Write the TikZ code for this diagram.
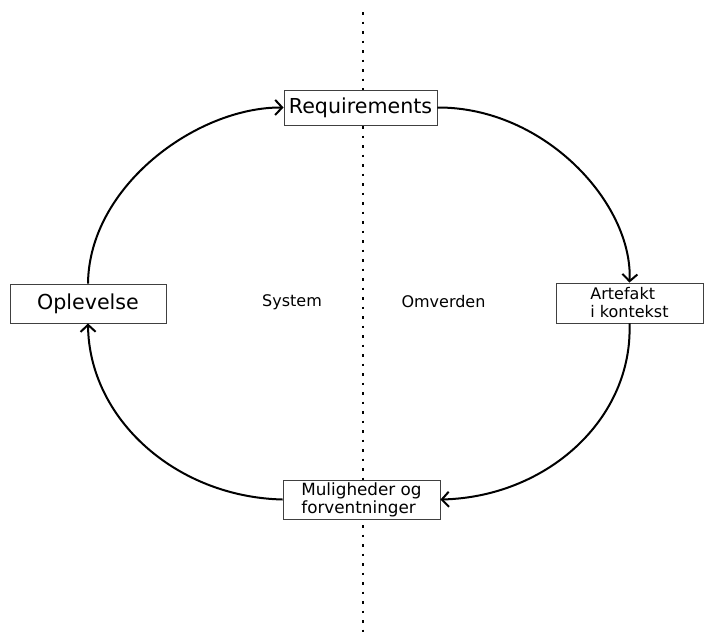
\documentclass[tikz,border=0pt]{standalone}
\usepackage{fontspec}
\setmainfont{DejaVu Sans}
\usetikzlibrary{arrows.meta}
\begin{document}
\begin{tikzpicture}[x=1pt,y=-1pt,
  box/.style={draw=black!75, line width=0.9pt, fill=white, inner sep=0pt, align=left},
  bigtxt/.style={font=\fontsize{20.6}{24}\selectfont},
  midtxt/.style={font=\fontsize{16.8}{18}\selectfont},
  smalltxt/.style={font=\fontsize{16}{18}\selectfont},
  flow/.style={line width=2pt, -{Straight Barb[length=7pt,width=15pt,line width=2pt]}},
  divider/.style={line width=2.6pt, dash pattern=on 2.6pt off 6.9pt}]
\useasboundingbox (0,0) rectangle (704,632);
% boundary between system and surroundings
\coordinate (top) at (363,12);
\coordinate (bot) at (363,632);
\draw[divider] (top) -- (bot);
% the four stages
\node[box, bigtxt, minimum width=153pt, minimum height=35pt] (req) at (360.5,107.5) {Requirements};
\node[box, bigtxt, minimum width=156pt, minimum height=39pt] (opl) at (88,303.5) {Oplevelse};
\node[box, smalltxt, minimum width=147pt, minimum height=40pt] (art) at (629.5,303) {Artefakt\\i kontekst};
\node[box, midtxt, minimum width=157pt, minimum height=39pt] (mul) at (361.5,499.5) {Muligheder og\\forventninger};
% side labels
\node[smalltxt] (sys) at (292,302) {System};
\node[smalltxt] (omv) at (443.5,302) {Omverden};
% cycle
\draw[flow] (opl.north) .. controls (89,186) and (197,107) .. (req.west);
\draw[flow] (req.east) .. controls (545,107) and (633,204) .. (art.north);
\draw[flow] (art.south) .. controls (633,419) and (547,497) .. (mul.east);
\draw[flow] (mul.west) .. controls (176,497) and (89,419) .. (opl.south);
\end{tikzpicture}
\end{document}
